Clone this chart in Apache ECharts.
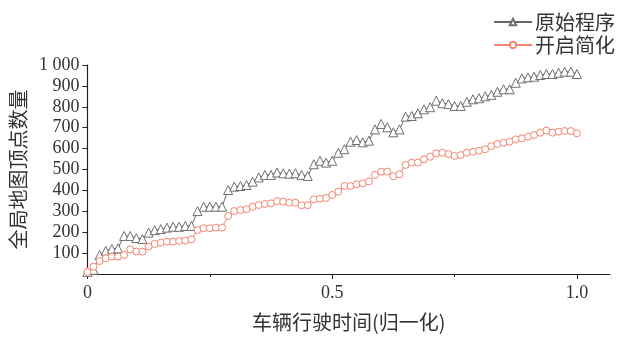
<!DOCTYPE html>
<html>
<head>
<meta charset="utf-8">
<script src="https://cdn.jsdelivr.net/npm/echarts@6/dist/echarts.min.js"></script>
<style>
html,body{margin:0;padding:0;background:#fff;}
#chart{width:628px;height:338px;}
</style>
</head>
<body>
<div id="chart"></div>
<script>
// normalized driving time (x) for each sample
var timeValues = [
  0, 0.0125, 0.025, 0.0375, 0.05, 0.0625, 0.075, 0.0875, 0.1, 0.1125,
  0.125, 0.1375, 0.15, 0.1625, 0.175, 0.1875, 0.2, 0.2125, 0.225, 0.2375,
  0.25, 0.2625, 0.275, 0.2875, 0.3, 0.3125, 0.325, 0.3375, 0.35, 0.3625,
  0.375, 0.3875, 0.4, 0.4125, 0.425, 0.4375, 0.45, 0.4625, 0.475, 0.4875,
  0.5, 0.5125, 0.525, 0.5375, 0.55, 0.5625, 0.575, 0.5875, 0.6, 0.6125,
  0.625, 0.6375, 0.65, 0.6625, 0.675, 0.6875, 0.7, 0.7125, 0.725, 0.7375,
  0.75, 0.7625, 0.775, 0.7875, 0.8, 0.8125, 0.825, 0.8375, 0.85, 0.8625,
  0.875, 0.8875, 0.9, 0.9125, 0.925, 0.9375, 0.95, 0.9625, 0.975, 0.9875,
  1.0
];
// 原始程序
var originalValues = [
  10, 20, 91, 111, 120, 123, 182, 182, 172, 167,
  198, 210, 215, 222, 226, 226, 230, 230, 301, 322,
  322, 322, 322, 402, 418, 421, 426, 442, 462, 474,
  474, 486, 482, 480, 482, 474, 469, 525, 542, 533,
  542, 580, 597, 633, 641, 630, 638, 692, 718, 702,
  678, 692, 753, 756, 769, 788, 798, 829, 817, 813,
  804, 804, 824, 836, 841, 850, 857, 872, 884, 884,
  915, 936, 941, 944, 952, 957, 957, 963, 968, 968,
  957
];
// 开启简化
var simplifiedValues = [
  10, 35, 62, 75, 83, 83, 91, 118, 107, 107,
  131, 144, 150, 155, 155, 158, 160, 166, 210, 219,
  219, 222, 222, 278, 301, 306, 310, 322, 330, 335,
  338, 349, 346, 341, 341, 329, 329, 357, 360, 364,
  378, 394, 421, 421, 429, 434, 443, 474, 490, 490,
  468, 477, 522, 533, 533, 549, 561, 577, 580, 574,
  565, 569, 580, 585, 590, 597, 612, 622, 628, 633,
  644, 649, 657, 665, 676, 686, 676, 681, 684, 684,
  673
];
var seriesNames = ['原始程序', '开启简化'];
var xTickValues = [0, 0.5, 1.0];
var xTickLabels = ['0', '0.5', '1.0'];
var xMinorTickValues = [0.25, 0.75];
var yTickValues = [100, 200, 300, 400, 500, 600, 700, 800, 900, 1000];
var yTickLabels = ['100', '200', '300', '400', '500', '600', '700', '800', '900', '1 000'];
var xTitle = '车辆行驶时间(归一化)';
var yTitle = '全局地图顶点数量';

function pairs(xs, ys) {
  var out = [];
  for (var i = 0; i < ys.length; i++) out.push([xs[i], ys[i]]);
  return out;
}

var serif = '"Liberation Serif", "Times New Roman", serif';
var cjk = '"Noto Sans CJK SC", sans-serif';

var chart = echarts.init(document.getElementById('chart'), null, {renderer: 'canvas'});
chart.setOption({
  animation: false,
  backgroundColor: '#ffffff',
  grid: {left: 84, right: 18, top: 65, bottom: 64, containLabel: false},
  legend: {
    orient: 'vertical',
    left: 488,
    top: 7,
    itemWidth: 38,
    itemHeight: 8,
    itemGap: 3,
    textStyle: {fontFamily: cjk, fontSize: 20, color: '#333', padding: [0, 0, 0, -2]},
    data: seriesNames
  },
  xAxis: [{
    type: 'value',
    min: 0,
    max: 1.0675,
    name: xTitle,
    nameLocation: 'middle',
    nameGap: 38,
    nameTextStyle: {fontFamily: cjk, fontSize: 20, color: '#333'},
    axisLine: {show: true, onZero: false, lineStyle: {color: '#222', width: 1.2}},
    axisTick: {show: true, length: 5, inside: false, customValues: xTickValues, lineStyle: {color: '#222'}},
    axisLabel: {
      customValues: xTickValues,
      margin: 10,
      fontFamily: serif, fontSize: 18, color: '#333',
      formatter: function (v) {
        for (var i = 0; i < xTickValues.length; i++) if (Math.abs(v - xTickValues[i]) < 1e-9) return xTickLabels[i];
        return '';
      }
    },
    splitLine: {show: false}
  }, {
    type: 'value',
    min: 0,
    max: 1.0675,
    position: 'bottom',
    axisLine: {show: false},
    axisTick: {show: true, length: 3, customValues: xMinorTickValues, lineStyle: {color: '#222'}},
    axisLabel: {show: false},
    splitLine: {show: false}
  }],
  yAxis: {
    type: 'value',
    min: 0,
    max: 1000,
    name: yTitle,
    nameLocation: 'middle',
    nameGap: 54,
    nameRotate: 90,
    nameTextStyle: {fontFamily: cjk, fontSize: 20, color: '#333'},
    axisLine: {show: true, onZero: false, lineStyle: {color: '#222', width: 1.2}},
    axisTick: {show: true, length: 5, customValues: yTickValues, lineStyle: {color: '#222'}},
    axisLabel: {
      customValues: yTickValues,
      margin: 8,
      fontFamily: serif, fontSize: 18, color: '#333',
      formatter: function (v) {
        for (var i = 0; i < yTickValues.length; i++) if (Math.abs(v - yTickValues[i]) < 1e-9) return yTickLabels[i];
        return '';
      }
    },
    splitLine: {show: false}
  },
  series: [{
    name: seriesNames[0],
    type: 'line',
    data: pairs(timeValues, originalValues),
    symbol: 'triangle',
    symbolSize: 9,
    showAllSymbol: true,
    lineStyle: {color: '#666', width: 1},
    itemStyle: {color: '#ffffff', borderColor: '#707070', borderWidth: 1}
  }, {
    name: seriesNames[1],
    type: 'line',
    data: pairs(timeValues, simplifiedValues),
    symbol: 'circle',
    symbolSize: 7,
    showAllSymbol: true,
    lineStyle: {color: '#f4836f', width: 1},
    itemStyle: {color: '#ffffff', borderColor: '#f4836f', borderWidth: 1}
  }]
});
</script>
</body>
</html>
